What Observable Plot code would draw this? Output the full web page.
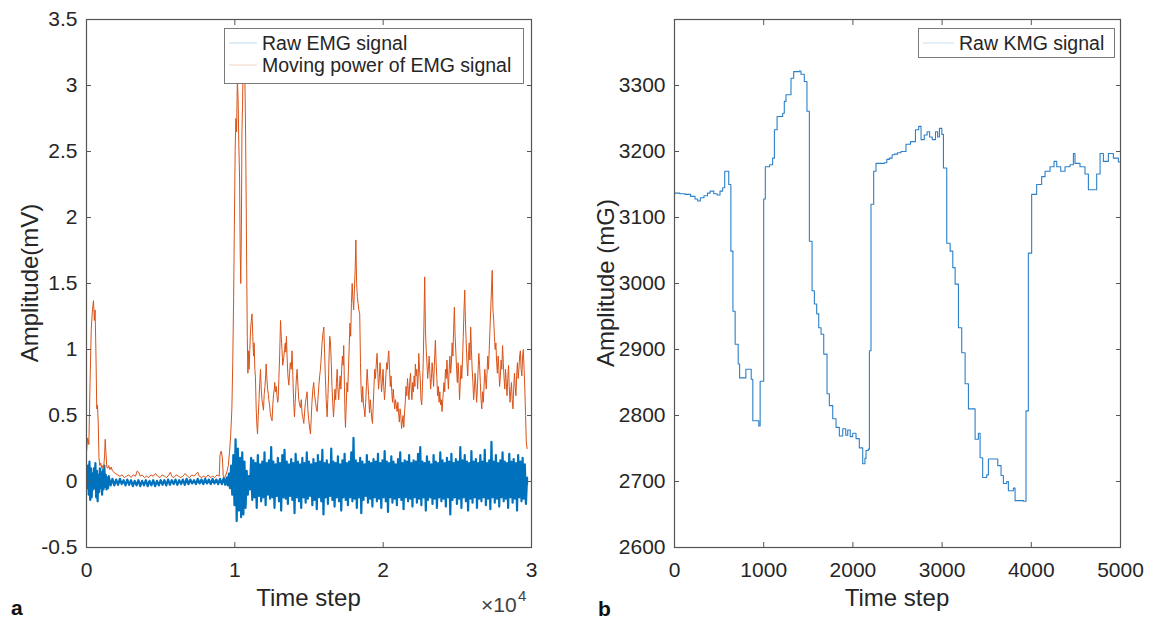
<!DOCTYPE html>
<html><head><meta charset="utf-8">
<script src="https://cdn.jsdelivr.net/npm/d3@7"></script>
<script src="https://cdn.jsdelivr.net/npm/@observablehq/plot@0.6"></script>
<style>
body{margin:0;background:#fff;}
#wrap{position:relative;width:1160px;height:620px;background:#fff;overflow:hidden;font-family:"Liberation Sans",Arial,Helvetica,sans-serif;}
#pa,#pb{position:absolute;top:0;}
#pa{left:0;} #pb{left:580px;}
#ov{position:absolute;left:0;top:0;pointer-events:none;}
</style>
</head><body>
<div id="wrap"><div id="pa"></div><div id="pb"></div></div>
<script>
// ---------- Panel a: raw EMG (per-bin high / low excursions) ----------
const emgTime = [
  0,100,200,300,400,500,600,700,800,900,1000,1100,1200,1300,1400,1500,
  1750,2000,2250,2500,2750,3000,3250,3500,3750,4000,4250,4500,4750,5000,5250,5500,5750,6000,6250,6500,6750,7000,7250,7500,7750,8000,8250,8500,8750,9000,9250,
  9450,9600,9750,9900,10050,10200,10350,10500,10650,10800,
  10950,11100,11250,11400,11550,11700,11850,12000,12150,12300,
  12450,12600,12750,12900,13050,13200,13350,13500,13650,13800,
  13950,14100,14250,14400,14550,14700,14850,15000,15150,15300,
  15450,15600,15750,15900,16050,16200,16350,16500,16650,16800,
  16950,17100,17250,17400,17550,17700,17850,18000,18150,18300,
  18450,18600,18750,18900,19050,19200,19350,19500,19650,19800,
  19950,20100,20250,20400,20550,20700,20850,21000,21150,21300,
  21450,21600,21750,21900,22050,22200,22350,22500,22650,22800,
  22950,23100,23250,23400,23550,23700,23850,24000,24150,24300,
  24450,24600,24750,24900,25050,25200,25350,25500,25650,25800,
  25950,26100,26250,26400,26550,26700,26850,27000,27150,27300,
  27450,27600,27750,27900,28050,28200,28350,28500,28650,28800,
  28950,29100,29250,29400,29550,29700
];
const emgHigh = [
  0.08,0.12,0.15,0.1,0.06,0.1,0.14,0.08,0.05,0.1,0.07,0.09,0.12,0.05,0.03,0.04,
  0.02,0.015,0.02,0.01,0.015,0.01,0.005,0.01,0.005,0.01,0.005,0.01,0.005,0.01,0.01,0.015,0.01,0.015,0.01,0.015,0.02,0.015,0.01,0.02,0.015,0.02,0.015,0.02,0.015,0.02,0.025,
  0.03,0.06,0.12,0.2,0.32,0.25,0.18,0.22,0.15,0.08,
  0.04,0.18,0.16,0.14,0.2,0.13,0.15,0.22,0.14,0.16,
  0.26,0.15,0.13,0.18,0.14,0.2,0.24,0.15,0.13,0.17,
  0.14,0.21,0.15,0.13,0.18,0.14,0.22,0.15,0.13,0.17,
  0.14,0.2,0.15,0.24,0.14,0.16,0.13,0.25,0.15,0.14,
  0.19,0.13,0.16,0.21,0.14,0.15,0.22,0.33,0.16,0.14,
  0.18,0.15,0.13,0.2,0.15,0.14,0.17,0.15,0.21,0.14,
  0.16,0.23,0.15,0.14,0.19,0.15,0.13,0.17,0.22,0.14,
  0.16,0.15,0.2,0.14,0.16,0.15,0.21,0.26,0.15,0.14,
  0.19,0.15,0.13,0.2,0.15,0.14,0.22,0.16,0.14,0.18,
  0.15,0.21,0.14,0.17,0.15,0.26,0.16,0.2,0.15,0.14,
  0.23,0.15,0.17,0.14,0.2,0.15,0.24,0.14,0.16,0.3,
  0.15,0.2,0.14,0.16,0.22,0.15,0.14,0.21,0.15,0.17,
  0.14,0.2,0.15,0.18,0.13,0.03
];
const emgLow = [
  -0.05,-0.1,-0.14,-0.12,-0.06,-0.05,-0.12,-0.15,-0.08,-0.05,-0.1,-0.06,-0.04,-0.06,-0.05,-0.03,
  -0.03,-0.025,-0.02,-0.03,-0.025,-0.035,-0.03,-0.035,-0.03,-0.035,-0.03,-0.035,-0.03,-0.025,-0.03,-0.025,-0.02,-0.025,-0.02,-0.025,-0.02,-0.015,-0.02,-0.015,-0.02,-0.015,-0.02,-0.015,-0.02,-0.02,-0.025,
  -0.03,-0.05,-0.1,-0.18,-0.3,-0.22,-0.27,-0.25,-0.2,-0.1,
  -0.06,-0.14,-0.12,-0.2,-0.11,-0.15,-0.12,-0.18,-0.1,-0.13,
  -0.12,-0.2,-0.11,-0.15,-0.22,-0.12,-0.13,-0.17,-0.11,-0.14,
  -0.24,-0.12,-0.15,-0.2,-0.12,-0.16,-0.13,-0.11,-0.18,-0.14,
  -0.21,-0.12,-0.15,-0.25,-0.12,-0.17,-0.11,-0.14,-0.19,-0.12,
  -0.15,-0.22,-0.12,-0.14,-0.18,-0.12,-0.15,-0.13,-0.2,-0.12,
  -0.24,-0.14,-0.11,-0.16,-0.13,-0.19,-0.12,-0.15,-0.13,-0.2,
  -0.12,-0.15,-0.23,-0.12,-0.16,-0.13,-0.18,-0.12,-0.14,-0.21,
  -0.12,-0.15,-0.13,-0.19,-0.12,-0.16,-0.13,-0.18,-0.12,-0.22,
  -0.14,-0.12,-0.17,-0.13,-0.2,-0.12,-0.15,-0.13,-0.19,-0.12,
  -0.25,-0.14,-0.12,-0.17,-0.13,-0.2,-0.12,-0.15,-0.22,-0.13,
  -0.16,-0.12,-0.2,-0.13,-0.15,-0.12,-0.18,-0.13,-0.21,-0.12,
  -0.16,-0.13,-0.19,-0.12,-0.15,-0.13,-0.2,-0.12,-0.16,-0.13,
  -0.22,-0.12,-0.15,-0.13,-0.17,-0.02
];

// ---------- Panel a: moving power of EMG [time step, mV] ----------
const emgPower = [
  [0,0.22],[80,0.33],[160,0.28],[240,0.75],[320,1.15],[400,1.3],[470,1.37],[530,1.22],[580,1.3],[640,0.95],
  [690,0.55],[740,0.58],[790,0.45],[840,0.18],[900,0.12],[960,0.14],[1020,0.1],[1080,0.12],[1150,0.09],[1220,0.2],
  [1260,0.32],[1310,0.22],[1370,0.11],[1430,0.1],[1500,0.12],[1580,0.09],[1660,0.11],[1750,0.08],[1850,0.07],[1950,0.06],
  [2100,0.05],[2250,0.04],[2400,0.05],[2550,0.03],[2700,0.04],[2850,0.05],[3000,0.03],[3150,0.05],[3300,0.04],[3420,0.08],
  [3520,0.07],[3620,0.04],[3750,0.05],[3900,0.03],[4050,0.04],[4200,0.03],[4350,0.05],[4500,0.04],[4650,0.06],[4800,0.04],
  [4950,0.03],[5100,0.05],[5250,0.04],[5400,0.03],[5550,0.05],[5650,0.07],[5750,0.04],[5900,0.03],[6050,0.05],[6200,0.04],
  [6350,0.03],[6500,0.04],[6650,0.06],[6800,0.04],[6950,0.03],[7100,0.05],[7250,0.04],[7400,0.06],[7500,0.07],[7600,0.04],
  [7750,0.03],[7900,0.04],[8050,0.03],[8200,0.05],[8350,0.03],[8500,0.04],[8650,0.03],[8800,0.05],[8950,0.04],[9000,0.2],
  [9080,0.23],[9160,0.18],[9220,0.04],[9300,0.03],[9400,0.05],[9480,0.08],[9560,0.12],[9640,0.22],[9720,0.35],[9800,0.55],
  [9860,0.9],[9920,1.4],[9970,1.95],[10020,2.5],[10070,2.75],[10120,2.65],[10170,3.05],[10220,2.9],[10270,2.55],[10320,2.3],
  [10360,1.75],[10400,1.5],[10440,1.9],[10480,2.65],[10520,2.85],[10560,3.2],[10610,3.3],[10660,3.15],[10710,2.8],[10760,2.2],
  [10800,1.62],[10840,1.1],[10880,0.82],[10920,0.99],[10960,0.85],[11010,1.0],[11060,1.15],[11110,1.22],[11160,1.27],[11210,1.1],
  [11260,0.95],[11300,1.05],[11350,0.85],[11390,0.79],[11440,0.55],[11490,0.42],[11530,0.36],[11580,0.5],[11630,0.62],[11680,0.75],
  [11730,0.85],[11780,0.7],[11830,0.62],[11880,0.58],[11930,0.54],[11980,0.66],[12030,0.72],[12080,0.8],[12110,0.89],[12160,0.78],
  [12210,0.7],[12260,0.66],[12290,0.62],[12340,0.58],[12390,0.52],[12450,0.48],[12510,0.46],[12560,0.58],[12610,0.66],[12660,0.7],
  [12690,0.75],[12740,0.68],[12790,0.72],[12840,0.65],[12890,0.6],[12920,0.62],[12970,0.78],[13020,0.95],[13080,1.22],[13130,1.1],
  [13180,1.0],[13230,0.88],[13300,0.94],[13350,1.0],[13400,1.05],[13440,0.98],[13480,1.1],[13530,0.92],[13580,0.8],[13640,0.73],
  [13690,0.82],[13740,0.9],[13800,0.85],[13860,0.99],[13910,0.8],[13960,0.62],[14020,0.49],[14070,0.6],[14120,0.72],[14160,0.8],
  [14200,0.85],[14260,0.72],[14310,0.62],[14370,0.58],[14420,0.56],[14480,0.62],[14530,0.52],[14590,0.48],[14650,0.44],[14700,0.52],
  [14760,0.6],[14820,0.64],[14870,0.68],[14920,0.55],[14970,0.48],[15030,0.42],[15100,0.36],[15150,0.48],[15200,0.6],[15260,0.7],
  [15320,0.75],[15380,0.65],[15440,0.6],[15500,0.55],[15550,0.53],[15600,0.62],[15660,0.72],[15720,0.8],[15770,0.85],[15830,0.95],
  [15880,1.05],[15940,1.12],[16000,1.17],[16050,0.98],[16100,0.8],[16160,0.62],[16220,0.49],[16270,0.62],[16320,0.8],[16360,0.98],
  [16400,1.1],[16450,1.05],[16500,0.9],[16550,0.72],[16600,0.6],[16650,0.49],[16700,0.58],[16750,0.7],[16800,0.62],[16850,0.75],
  [16900,0.85],[16950,0.7],[17000,0.62],[17050,0.72],[17100,0.8],[17150,0.7],[17200,0.85],[17250,0.95],[17300,0.88],[17340,1.03],
  [17390,0.72],[17430,0.5],[17460,0.41],[17510,0.58],[17560,0.75],[17610,0.68],[17660,0.85],[17710,1.02],[17760,1.2],[17810,1.1],
  [17860,1.35],[17910,1.5],[17960,1.38],[18010,1.3],[18060,1.45],[18110,1.6],[18160,1.83],[18210,1.5],[18260,1.4],[18310,1.35],
  [18360,1.3],[18420,1.27],[18470,0.9],[18520,0.67],[18570,0.6],[18620,0.72],[18670,0.58],[18720,0.55],[18770,0.49],[18820,0.6],
  [18870,0.72],[18920,0.85],[18970,0.75],[19020,0.65],[19080,0.52],[19130,0.62],[19180,0.55],[19230,0.48],[19280,0.44],[19330,0.58],
  [19380,0.72],[19430,0.85],[19480,0.78],[19530,0.88],[19590,0.97],[19640,0.82],[19690,0.7],[19740,0.78],[19790,0.9],[19840,0.8],
  [19890,0.68],[19940,0.75],[19990,0.85],[20040,0.72],[20090,0.62],[20140,0.7],[20190,0.82],[20240,0.9],[20290,0.85],[20340,0.95],
  [20380,0.99],[20430,0.85],[20480,0.72],[20530,0.8],[20580,0.68],[20630,0.6],[20680,0.7],[20730,0.62],[20780,0.55],[20830,0.62],
  [20880,0.58],[20940,0.53],[20990,0.6],[21040,0.52],[21090,0.45],[21140,0.55],[21190,0.5],[21240,0.4],[21290,0.45],[21340,0.5],
  [21390,0.41],[21440,0.52],[21490,0.6],[21540,0.72],[21590,0.65],[21640,0.78],[21690,0.7],[21740,0.62],[21790,0.75],[21840,0.82],
  [21890,0.7],[21940,0.62],[21990,0.75],[22040,0.68],[22090,0.8],[22140,0.72],[22170,0.89],[22220,0.8],[22270,0.85],[22320,0.7],
  [22370,0.82],[22400,0.97],[22450,0.85],[22500,0.78],[22550,0.62],[22600,0.58],[22650,0.72],[22700,0.9],[22750,1.2],[22800,1.55],
  [22850,1.15],[22900,1.0],[22950,0.9],[23000,0.78],[23050,0.85],[23100,0.95],[23150,0.82],[23200,0.7],[23250,0.78],[23300,0.9],
  [23350,0.82],[23400,0.72],[23450,0.88],[23520,1.07],[23570,0.9],[23620,0.78],[23670,0.65],[23720,0.72],[23770,0.6],[23820,0.68],
  [23870,0.58],[23920,0.62],[23970,0.53],[24020,0.62],[24100,0.75],[24150,0.68],[24200,0.85],[24250,0.78],[24300,0.92],[24350,0.8],
  [24400,0.7],[24450,0.85],[24500,0.95],[24550,0.82],[24600,0.9],[24650,1.05],[24700,0.95],[24750,1.15],[24800,1.32],[24850,1.1],
  [24900,0.98],[24950,0.85],[25000,0.75],[25050,0.9],[25100,0.8],[25150,0.62],[25200,0.75],[25250,0.88],[25300,0.78],[25350,0.92],
  [25400,1.1],[25450,1.3],[25500,1.45],[25550,1.2],[25600,1.05],[25650,0.9],[25700,0.8],[25750,0.95],[25800,1.05],[25850,0.92],
  [25900,1.17],[25950,1.0],[26000,0.85],[26050,0.75],[26100,0.62],[26150,0.7],[26200,0.82],[26250,0.72],[26300,0.6],[26350,0.7],
  [26400,0.85],[26450,0.97],[26500,0.88],[26550,0.75],[26600,0.62],[26650,0.55],[26700,0.68],[26750,0.6],[26800,0.72],[26850,0.85],
  [26900,0.78],[26950,0.7],[27000,0.82],[27050,0.95],[27100,0.85],[27150,1.0],[27200,1.15],[27250,1.3],[27300,1.45],[27350,1.6],
  [27400,1.3],[27450,1.23],[27500,1.1],[27550,1.0],[27600,1.05],[27650,0.9],[27700,0.82],[27750,0.95],[27800,0.85],[27850,0.72],
  [27900,0.8],[27950,0.92],[28000,0.85],[28050,1.03],[28100,0.9],[28150,0.78],[28200,0.7],[28250,0.85],[28300,0.75],[28350,0.65],
  [28400,0.78],[28450,0.88],[28500,0.72],[28550,0.6],[28600,0.68],[28650,0.75],[28700,0.62],[28750,0.55],[28800,0.7],[28850,0.82],
  [28900,0.72],[28950,0.65],[29000,0.8],[29050,0.9],[29100,0.78],[29150,0.85],[29200,0.95],[29250,0.99],[29300,0.85],[29350,0.8],
  [29400,0.95],[29450,1.0],[29500,0.85],[29550,0.7],[29600,0.5],[29650,0.3],[29700,0.25]
];

// ---------- Panel b: raw KMG signal [time step, mG] ----------
const kmgSignal = [
  [0,3137],[60,3136],[120,3135],[180,3132],[230,3128],[260,3125],[290,3130],[330,3133],[370,3137],[400,3140],
  [440,3136],[478,3134],[510,3140],[540,3145],[563,3170],[608,3150],[632,3049],[655,2958],[680,2908],[714,2878],
  [730,2857],[800,2870],[860,2855],[878,2792],[945,2784],[960,2852],[1000,3128],[1018,3177],[1066,3180],[1100,3190],
  [1120,3233],[1150,3253],[1213,3258],[1231,3276],[1250,3286],[1306,3311],[1336,3321],[1400,3322],[1418,3317],[1455,3306],
  [1485,3261],[1512,3064],[1542,2989],[1568,2969],[1594,2954],[1617,2933],[1643,2923],[1673,2893],[1710,2833],[1736,2815],
  [1774,2795],[1811,2782],[1848,2769],[1886,2780],[1920,2770],[1942,2778],[1970,2768],[1998,2773],[2035,2765],[2072,2751],
  [2110,2727],[2135,2735],[2147,2747],[2173,2749],[2185,2898],[2203,3120],[2233,3170],[2259,3182],[2352,3183],[2380,3188],
  [2408,3190],[2440,3195],[2464,3196],[2500,3198],[2539,3200],[2595,3211],[2645,3215],[2701,3233],[2738,3238],[2764,3218],
  [2800,3225],[2832,3230],[2860,3222],[2890,3218],[2926,3230],[2950,3222],[2970,3235],[2997,3226],[3015,3175],[3052,3061],
  [3090,3049],[3120,3024],[3146,2999],[3183,2933],[3220,2895],[3258,2848],[3295,2810],[3370,2764],[3407,2773],[3426,2736],
  [3455,2706],[3500,2710],[3519,2734],[3594,2734],[3624,2724],[3661,2709],[3687,2697],[3724,2700],[3743,2686],[3799,2690],
  [3818,2671],[3912,2670],[3941,2807],[3967,3046],[4004,3135],[4060,3150],[4116,3162],[4154,3170],[4210,3177],[4255,3185],
  [4285,3177],[4330,3170],[4378,3177],[4434,3180],[4472,3197],[4490,3182],[4546,3177],[4602,3166],[4640,3142],[4696,3142],
  [4733,3166],[4771,3197],[4808,3185],[4864,3197],[4920,3190],[4976,3184],[5000,3184]
];

// ---------- Ticks ----------
const ticksXa = [0, 10000, 20000, 30000];
const ticksYa = [-0.5, 0, 0.5, 1, 1.5, 2, 2.5, 3, 3.5];
const ticksXb = [0, 1000, 2000, 3000, 4000, 5000];
const ticksYb = [2600, 2700, 2800, 2900, 3000, 3100, 3200, 3300];

// ---------- Build tables ----------
const emgRows = [];
for (let i = 0; i < emgTime.length; i++) {
  const t0 = emgTime[i];
  const t1 = i + 1 < emgTime.length ? emgTime[i + 1] : t0;
  emgRows.push({t: t0, v: emgHigh[i]});
  emgRows.push({t: (t0 + t1) / 2, v: emgLow[i]});
}
const powerRows = emgPower.map(([t, v]) => ({t, v}));
const kmgRows = kmgSignal.map(([t, v]) => ({t, v}));

const FONT = '"Liberation Sans", Arial, Helvetica, sans-serif';
const TXT = "#262626";
const AX = "#555";
const tickFS = 21;

function axes(tx, ty, fx) {
  return [
    Plot.frame({stroke: AX, strokeWidth: 1.2}),
    Plot.axisX(tx, {anchor: "bottom", tickSize: -5, tickPadding: 20, tickFormat: fx, label: null, fontSize: tickFS, stroke: AX, fill: TXT}),
    Plot.axisX(tx, {anchor: "top", tickSize: -5, tickFormat: () => "", label: null, stroke: AX}),
    Plot.axisY(ty, {anchor: "left", tickSize: -5, tickPadding: 14, tickFormat: d => String(d), label: null, fontSize: tickFS, stroke: AX, fill: TXT}),
    Plot.axisY(ty, {anchor: "right", tickSize: -5, tickFormat: () => "", label: null, stroke: AX})
  ];
}

const chartA = Plot.plot({
  width: 580, height: 620,
  marginLeft: 86, marginRight: 49, marginTop: 19, marginBottom: 73,
  style: {fontFamily: FONT, background: "transparent", color: TXT},
  x: {domain: [0, 30000]},
  y: {domain: [-0.5, 3.5]},
  marks: [
    Plot.line(emgRows, {x: "t", y: "v", stroke: "#0072BD", strokeWidth: 2.2, strokeLinejoin: "round", clip: true}),
    Plot.line(powerRows, {x: "t", y: "v", stroke: "#D95319", strokeWidth: 1, clip: true}),
    ...axes(ticksXa, ticksYa, d => String(d / 10000))
  ]
});
document.getElementById("pa").appendChild(chartA);

const chartB = Plot.plot({
  width: 580, height: 620,
  marginLeft: 94, marginRight: 40, marginTop: 19, marginBottom: 73,
  style: {fontFamily: FONT, background: "transparent", color: TXT},
  x: {domain: [0, 5000]},
  y: {domain: [2600, 3400]},
  marks: [
    Plot.line(kmgRows, {x: "t", y: "v", curve: "step-after", stroke: "#2C80C9", strokeWidth: 1.1, clip: true}),
    ...axes(ticksXb, ticksYb, d => String(d))
  ]
});
document.getElementById("pb").appendChild(chartB);

// ---------- Overlay: titles, legends, panel letters ----------
const ns = "http://www.w3.org/2000/svg";
const ov = document.createElementNS(ns, "svg");
ov.setAttribute("id", "ov");
ov.setAttribute("width", 1160);
ov.setAttribute("height", 620);
ov.style.fontFamily = FONT;
function el(tag, attrs, text) {
  const e = document.createElementNS(ns, tag);
  for (const k in attrs) e.setAttribute(k, attrs[k]);
  if (text != null) e.textContent = text;
  ov.appendChild(e);
  return e;
}
// legend a
el("rect", {x: 224.5, y: 28.5, width: 299, height: 55, fill: "#fff", stroke: "#7a7a7a", "stroke-width": 1});
el("line", {x1: 229, x2: 257, y1: 43, y2: 43, stroke: "#0072BD", "stroke-opacity": 0.25});
el("line", {x1: 229, x2: 257, y1: 65, y2: 65, stroke: "#D95319", "stroke-opacity": 0.25});
el("text", {x: 262, y: 50, "font-size": 19.5, fill: TXT}, "Raw EMG signal");
el("text", {x: 262, y: 72, "font-size": 19.5, fill: TXT}, "Moving power of EMG signal");
// legend b
el("rect", {x: 918.5, y: 28.5, width: 196, height: 29, fill: "#fff", stroke: "#7a7a7a", "stroke-width": 1});
el("line", {x1: 923, x2: 954, y1: 43, y2: 43, stroke: "#2C80C9", "stroke-opacity": 0.25});
el("text", {x: 959, y: 50, "font-size": 19.5, fill: TXT}, "Raw KMG signal");
// axis titles
el("text", {transform: "translate(38,283) rotate(-90)", "text-anchor": "middle", "font-size": 24, fill: TXT}, "Amplitude(mV)");
el("text", {transform: "translate(614,283) rotate(-90)", "text-anchor": "middle", "font-size": 24, fill: TXT}, "Amplitude (mG)");
el("text", {x: 308.5, y: 606, "text-anchor": "middle", "font-size": 24, fill: TXT}, "Time step");
el("text", {x: 897, y: 606, "text-anchor": "middle", "font-size": 24, fill: TXT}, "Time step");
// exponent
el("text", {x: 481, y: 612, "font-size": 21, fill: "#404040"}, "×10");
el("text", {x: 518, y: 601, "font-size": 15, fill: "#404040"}, "4");
// panel letters
el("text", {x: 11, y: 615, "font-size": 21, "font-weight": "bold", fill: "#111"}, "a");
el("text", {x: 598, y: 616, "font-size": 21, "font-weight": "bold", fill: "#111"}, "b");
document.getElementById("wrap").appendChild(ov);
</script>
</body></html>
